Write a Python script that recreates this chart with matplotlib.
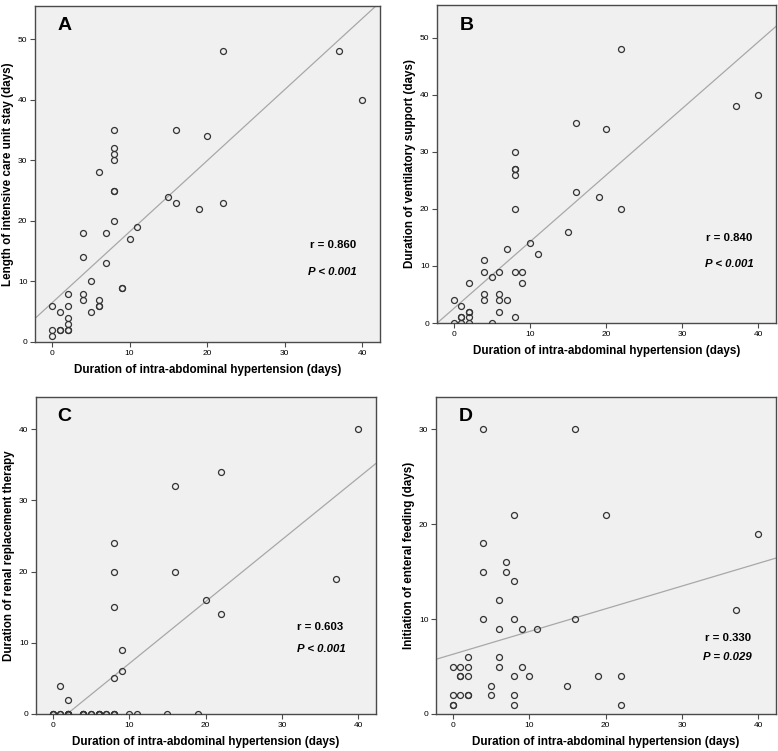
import numpy as np
import matplotlib
matplotlib.use("Agg")
import matplotlib.pyplot as plt

plt.rcParams['font.family'] = ['Liberation Sans', 'DejaVu Sans']

# ---- data ----
xA = [0,0,0,1,1,1,2,2,2,2,2,2,4,4,4,4,5,5,6,6,6,6,7,7,8,8,8,8,8,8,8,9,9,10,11,15,16,16,19,20,22,22,37,40]
yA = [6,2,1,5,2,2,8,6,4,3,2,2,18,14,8,7,10,5,28,7,6,6,18,13,35,32,31,30,25,25,20,9,9,17,19,24,35,23,22,34,48,23,48,40]

xB = [0,0,1,1,1,1,2,2,2,2,2,4,4,4,4,5,5,6,6,6,6,7,7,8,8,8,8,8,8,8,9,9,10,11,15,16,16,19,20,22,22,37,40]
yB = [4,0,3,1,1,0,7,2,2,1,0,11,9,5,4,8,0,9,5,4,2,13,4,30,27,27,26,20,9,1,9,7,14,12,16,35,23,22,34,48,20,38,40]

# overlapping zeros (several patients without renal replacement therapy)
xC = [0,0,0,1,1,1,2,2,2,2,2,2,4,4,4,4,5,5,6,6,6,6,7,7,8,8,8,8,8,8,8,9,9,10,11,15,16,16,19,20,22,22,37,40]
yC = [0,0,0,4,0,0,2,0,0,0,0,0,0,0,0,0,0,0,0,0,0,0,0,0,24,20,15,5,0,0,0,9,6,0,0,0,32,20,0,16,34,14,19,40]

xD = [0,0,0,0,1,1,1,1,2,2,2,2,2,4,4,4,4,5,5,6,6,6,6,7,7,8,8,8,8,8,8,9,9,10,11,15,16,16,19,20,22,22,37,40]
yD = [5,2,1,1,5,4,4,2,6,5,4,2,2,30,18,15,10,3,2,12,9,6,5,16,15,21,14,10,4,2,1,9,5,4,9,3,30,10,4,21,4,1,11,19]

letters = ["A", "B", "C", "D"]
ylabels = ["Length of intensive care unit stay (days)",
           "Duration of ventilatory support (days)",
           "Duration of renal replacement therapy",
           "Initiation of enteral feeding (days)"]
xlabel = "Duration of intra-abdominal hypertension (days)"
r_texts = ["r = 0.860", "r = 0.840", "r = 0.603", "r = 0.330"]
p_texts = ["P < 0.001", "P < 0.001", "P < 0.001", "P = 0.029"]
yticks_list = [[0,10,20,30,40,50],[0,10,20,30,40,50],[0,10,20,30,40],[0,10,20,30]]
ylims = [(0,55.5),(0,55.7),(0,44.5),(0,33.4)]

W, H = 778, 751
fig = plt.figure(figsize=(W/100, H/100), dpi=100)

# axes boxes in pixels: left, top, right, bottom
boxes = [(35, 6, 380, 342), (437, 5, 776, 323), (36, 397, 376, 714), (436, 397, 776, 714)]
r_pos = [(0.797, 0.289, 0.791, 0.208), (0.794, 0.267, 0.790, 0.184),
         (0.767, 0.274, 0.767, 0.206), (0.790, 0.240, 0.786, 0.180)]
letter_pos = [(0.064, 0.943), (0.066, 0.937), (0.063, 0.937), (0.067, 0.937)]

datasets = [(xA, yA), (xB, yB), (xC, yC), (xD, yD)]
frame_col = "#4a4a4a"

for i, (xs, ys) in enumerate(datasets):
    l, t, r, b = boxes[i]
    ax = fig.add_axes([l/W, 1-b/H, (r-l)/W, (b-t)/H])
    ax.set_facecolor("#f0f0f0")
    xs = np.array(xs, float); ys = np.array(ys, float)
    ax.set_xlim(-2.2, 42.3)
    ax.set_ylim(*ylims[i])
    # regression line
    k, c = np.polyfit(xs, ys, 1)
    xx = np.array([-5, 50])
    ax.plot(xx, k*xx + c, color="#a8a8a8", lw=0.9, zorder=2)
    ax.plot(xs, ys, 'o', mfc='none', mec="#333333", mew=0.9, ms=4.3, zorder=3)
    ax.set_xticks([0,10,20,30,40])
    ax.set_yticks(yticks_list[i])
    ax.tick_params(labelsize=6, length=3.5, width=0.8, color=frame_col, pad=2)
    for s in ax.spines.values():
        s.set_color(frame_col); s.set_linewidth(1.0)
    ax.set_xlabel(xlabel, fontsize=8.4, fontweight='bold', labelpad=5)
    ax.set_ylabel(ylabels[i], fontsize=8.4, fontweight='bold', labelpad=3)
    ax.text(letter_pos[i][0], letter_pos[i][1], letters[i], transform=ax.transAxes,
            fontsize=14, fontweight='bold', va='center', ha='left')
    rx, ry, px, py = r_pos[i]
    ax.text(rx, ry, r_texts[i], transform=ax.transAxes, fontsize=8.2, fontweight='bold',
            va='center', ha='left')
    ax.text(px, py, p_texts[i], transform=ax.transAxes, fontsize=8.2, fontweight='bold',
            fontstyle='italic', va='center', ha='left')

fig.savefig("out.png", dpi=100)
